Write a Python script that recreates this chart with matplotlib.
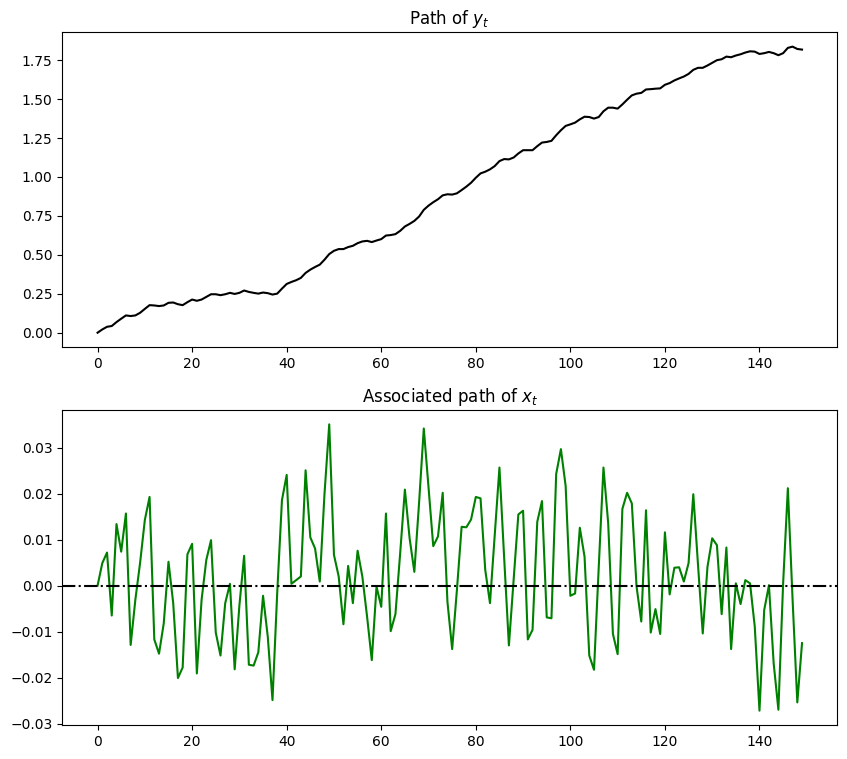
import matplotlib
matplotlib.use("Agg")
import matplotlib.pyplot as plt

# path of y_t
y_path = [
    0.000, 0.021, 0.038, 0.043, 0.068, 0.090, 0.111, 0.107, 0.111, 0.128,
    0.153, 0.177, 0.175, 0.171, 0.175, 0.192, 0.194, 0.183, 0.177, 0.196,
    0.213, 0.205, 0.213, 0.230, 0.247, 0.247, 0.241, 0.247, 0.256, 0.249,
    0.256, 0.271, 0.262, 0.256, 0.251, 0.258, 0.254, 0.245, 0.251, 0.283,
    0.313, 0.326, 0.337, 0.352, 0.384, 0.405, 0.422, 0.437, 0.469, 0.505,
    0.526, 0.537, 0.537, 0.550, 0.558, 0.575, 0.586, 0.590, 0.582, 0.592,
    0.601, 0.624, 0.627, 0.633, 0.654, 0.682, 0.699, 0.718, 0.746, 0.789,
    0.816, 0.838, 0.857, 0.882, 0.889, 0.887, 0.895, 0.916, 0.938, 0.963,
    0.995, 1.023, 1.034, 1.049, 1.070, 1.102, 1.115, 1.113, 1.125, 1.151,
    1.172, 1.172, 1.172, 1.198, 1.221, 1.225, 1.232, 1.268, 1.300, 1.328,
    1.338, 1.349, 1.370, 1.387, 1.385, 1.375, 1.385, 1.422, 1.445, 1.445,
    1.439, 1.466, 1.496, 1.524, 1.535, 1.540, 1.562, 1.564, 1.567, 1.569,
    1.592, 1.603, 1.620, 1.633, 1.645, 1.662, 1.688, 1.701, 1.701, 1.716,
    1.733, 1.750, 1.756, 1.773, 1.769, 1.780, 1.788, 1.799, 1.807, 1.805,
    1.790, 1.795, 1.803, 1.795, 1.782, 1.795, 1.829, 1.837, 1.822, 1.818,
]

# associated x_t
x_path = [
    0.0000, 0.0049, 0.0072, -0.0065, 0.0134, 0.0074, 0.0157, -0.0129, -0.0030, 0.0050,
    0.0143, 0.0193, -0.0117, -0.0148, -0.0082, 0.0052, -0.0038, -0.0201, -0.0178, 0.0068,
    0.0091, -0.0191, -0.0031, 0.0056, 0.0099, -0.0102, -0.0152, -0.0038, 0.0004, -0.0182,
    -0.0043, 0.0065, -0.0172, -0.0174, -0.0145, -0.0022, -0.0111, -0.0249, -0.0015, 0.0186,
    0.0241, 0.0004, 0.0012, 0.0020, 0.0251, 0.0105, 0.0081, 0.0009, 0.0200, 0.0351,
    0.0067, 0.0020, -0.0084, 0.0043, -0.0038, 0.0076, 0.0020, -0.0067, -0.0162, -0.0002,
    -0.0046, 0.0157, -0.0099, -0.0062, 0.0070, 0.0209, 0.0103, 0.0030, 0.0180, 0.0342,
    0.0214, 0.0086, 0.0107, 0.0202, -0.0035, -0.0138, -0.0010, 0.0128, 0.0127, 0.0144,
    0.0193, 0.0190, 0.0034, -0.0038, 0.0109, 0.0257, 0.0060, -0.0130, 0.0012, 0.0155,
    0.0163, -0.0117, -0.0096, 0.0139, 0.0184, -0.0069, -0.0071, 0.0243, 0.0297, 0.0217,
    -0.0022, -0.0017, 0.0126, 0.0063, -0.0152, -0.0183, 0.0040, 0.0257, 0.0136, -0.0105,
    -0.0149, 0.0167, 0.0202, 0.0179, -0.0002, -0.0078, 0.0164, -0.0102, -0.0051, -0.0105,
    0.0116, -0.0019, 0.0039, 0.0040, 0.0009, 0.0049, 0.0199, 0.0045, -0.0104, 0.0041,
    0.0103, 0.0088, -0.0062, 0.0083, -0.0138, 0.0005, -0.0040, 0.0012, 0.0005, -0.0089,
    -0.0272, -0.0053, 0.0001, -0.0169, -0.0270, 0.0005, 0.0212, -0.0030, -0.0254, -0.0125,
]

t = list(range(len(y_path)))

fig = plt.figure(figsize=(8.47, 7.59), dpi=100)
ax1 = fig.add_axes([0.0736, 0.5428, 0.9149, 0.4146])
ax2 = fig.add_axes([0.0736, 0.0448, 0.9149, 0.4150])

ax1.plot(t, y_path, 'k-')
ax1.set_title('Path of $y_t$')

ax2.plot(t, x_path, 'g-')
ax2.axhline(0, color='k', linestyle='-.')
ax2.set_title('Associated path of $x_t$')

fig.savefig('out.png', dpi=100)
